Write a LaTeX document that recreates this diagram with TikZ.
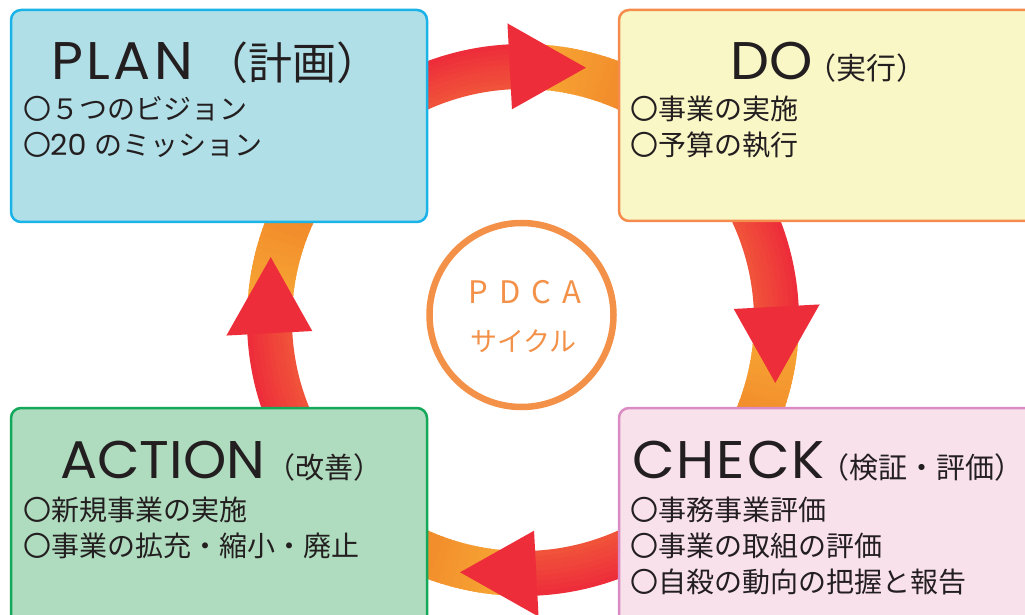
\documentclass[tikz,border=0pt]{standalone}
\usepackage{fontspec}
\setmainfont{Noto Sans CJK JP}
\newfontfamily\pop{Poppins}[FakeStretch=1.04]
\newfontfamily\cjk{Noto Sans CJK JP}
\definecolor{ringred}{HTML}{EE2D3A}
\definecolor{ringredin}{HTML}{F0533A}
\definecolor{ringorange}{HTML}{F28E2C}
\definecolor{ringlight}{HTML}{F8AA35}
\definecolor{planfill}{HTML}{B1DFE7}
\definecolor{planborder}{HTML}{1AB3E8}
\definecolor{dofill}{HTML}{FAF7C7}
\definecolor{doborder}{HTML}{F58B4C}
\definecolor{actfill}{HTML}{AFDBBE}
\definecolor{actborder}{HTML}{14A85A}
\definecolor{chkfill}{HTML}{F9E1EC}
\definecolor{chkborder}{HTML}{DA8BC3}
\definecolor{circ}{HTML}{F39149}
\definecolor{ink}{HTML}{231F20}
\tikzset{
  pbox/.style={rectangle, rounded corners=10pt, line width=2.5pt, inner sep=0pt},
  ttl/.style={anchor=base west, inner sep=0pt, text=ink},
  bodytxt/.style={anchor=base west, inner sep=0pt, text=ink, font=\cjk\fontsize{28}{28}\selectfont},
}
\begin{document}
\begin{tikzpicture}[x=1pt,y=1pt]
\useasboundingbox (0,0) rectangle (1025,614);
\fill[white] (0,0) rectangle (1025,614);
\clip (0,0) rectangle (1025,614);
% ring bands
\begin{scope}[shift={(523,294)}]
\foreach \cd in {90,0,-90,180}{
  \foreach \i in {0,...,20}{
    \pgfmathsetmacro\angA{\cd+89-\i}
    \pgfmathsetmacro\angB{\angA-1.5}
    \pgfmathsetmacro\mixp{100*\i/20}
    \fill[ringorange!\mixp!ringlight] (\angA:231) arc[start angle=\angA,end angle=\angB,radius=231] -- (\angB:276) arc[start angle=\angB,end angle=\angA,radius=276] -- cycle;
  }
  \foreach \i in {0,...,40}{
    \pgfmathsetmacro\angA{\cd+68-\i}
    \pgfmathsetmacro\angB{\angA-1.5}
    \pgfmathsetmacro\mixp{100*\i/40}
    \fill[ringred!\mixp!ringorange] (\angA:231) arc[start angle=\angA,end angle=\angB,radius=231] -- (\angB:276) arc[start angle=\angB,end angle=\angA,radius=276] -- cycle;
  }
  \foreach \j in {0,...,8}{
    \pgfmathsetmacro\angA{\cd+28.5}
    \pgfmathsetmacro\angB{\cd+2}
    \pgfmathsetmacro\ra{231+5*\j}
    \pgfmathsetmacro\rb{min(\ra+5.5,276)}
    \pgfmathsetmacro\mixp{100*\j/8}
    \fill[ringred!\mixp!ringredin] (\angA:\ra) arc[start angle=\angA,end angle=\angB,radius=\ra] -- (\angB:\rb) arc[start angle=\angB,end angle=\angA,radius=\rb] -- cycle;
  }
}
\foreach \cd in {90,0,-90,180}{
  \pgfmathsetmacro\angA{\cd+3}
  \pgfmathsetmacro\angB{\cd-14}
  \fill[ringred] (\angA:211) -- (\angA:297) -- (\angB:260) -- cycle;
}
\end{scope}
% boxes
\node[pbox, draw=planborder, fill=planfill, minimum width=416pt, minimum height=212pt] (plan) at (219,498) {};
\node[pbox, draw=doborder, fill=dofill, minimum width=426pt, minimum height=211pt] (do) at (832,498.5) {};
\node[pbox, draw=actborder, fill=actfill, minimum width=416pt, minimum height=222pt] (act) at (219,95) {};
\node[pbox, draw=chkborder, fill=chkfill, minimum width=426pt, minimum height=222pt] (chk) at (832,95) {};
% center circle
\node[circle, draw=circ, line width=6.5pt, fill=white, minimum size=184pt, inner sep=0pt] (pdca) at (521.5,299) {};
\node[anchor=base, inner sep=0pt, text=circ, font=\cjk\fontsize{31}{31}\selectfont] (pdcat) at (525,311) {P\hspace{11pt}D\hspace{11pt}C\hspace{11pt}A};
\node[anchor=base, inner sep=0pt, text=circ, font=\cjk\fontsize{27}{27}\selectfont] (cycle) at (523.5,263) {サイクル};
% titles
\node[ttl] (plant) at (51,534) {{\pop\fontsize{53}{53}\selectfont P\kern3.5pt L\kern3.5pt A\kern3.5pt N}\hspace{11pt}{\cjk\fontsize{44}{44}\selectfont （計画）}};
\node[ttl] (dot) at (730,534) {{\pop\fontsize{53}{53}\selectfont DO}\hspace{-6pt}{\cjk\fontsize{30}{30}\selectfont （実行）}};
\node[ttl] (actt) at (60,136) {{\pop\fontsize{53}{53}\selectfont ACTION}\hspace{1pt}{\cjk\fontsize{29}{29}\selectfont （改善）}};
\node[ttl] (chkt) at (632,136) {{\pop\fontsize{53}{53}\selectfont C\kern2pt H\kern2pt E\kern2pt C\kern2pt K}\hspace{-4pt}{\cjk\fontsize{29}{29}\selectfont （検証・評価）}};
% body texts
\node[bodytxt] (p1) at (23,494) {〇５つのビジョン};
\node[bodytxt] (p2) at (23,458) {〇\kern-1pt{\pop\fontsize{29}{29}\selectfont 20}\hspace{8pt}のミッション};
\node[bodytxt] (d1) at (630,494) {〇事業の実施};
\node[bodytxt] (d2) at (630,458) {〇予算の執行};
\node[bodytxt] (a1) at (23,94) {〇新規事業の実施};
\node[bodytxt] (a2) at (23,58) {〇事業の拡充・縮小・廃止};
\node[bodytxt] (c1) at (630,94) {〇事務事業評価};
\node[bodytxt] (c2) at (630,58) {〇事業の取組の評価};
\node[bodytxt] (c3) at (630,22) {〇自殺の動向の把握と報告};
\end{tikzpicture}
\end{document}
